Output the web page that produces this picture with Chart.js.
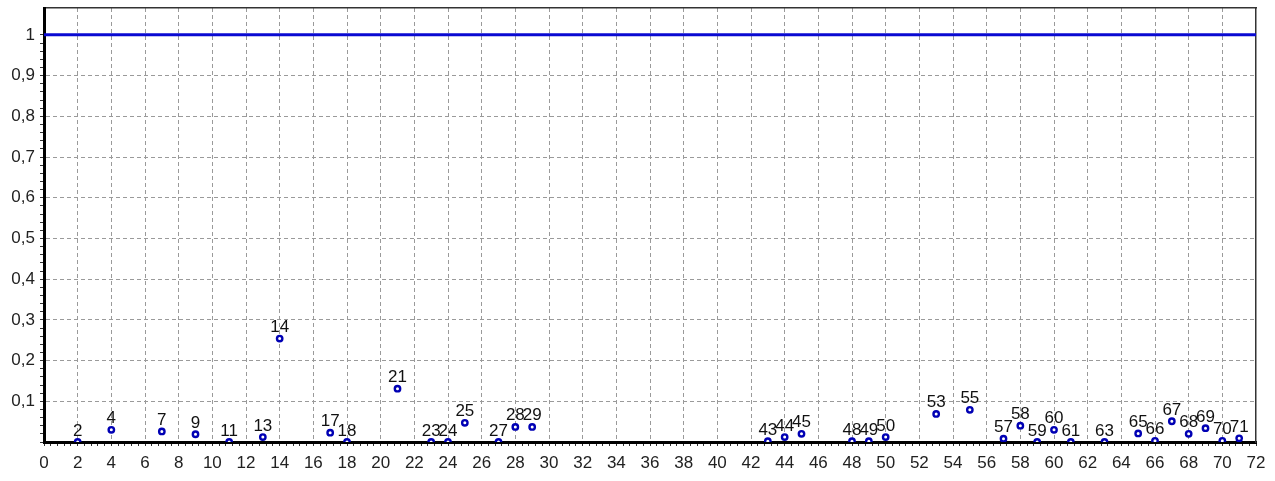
<!DOCTYPE html>
<html>
<head>
<meta charset="utf-8">
<script src="https://cdn.jsdelivr.net/npm/chart.js@4/dist/chart.umd.min.js"></script>
<style>
  html, body { margin: 0; padding: 0; background: #fff; }
  #wrap { width: 1275px; height: 481px; }
</style>
</head>
<body>
<div id="wrap"><canvas id="chart" width="1275" height="481"></canvas></div>
<script>
// point positions (x) and their values (y)
const pointX = [2, 4, 7, 9, 11, 13, 14, 17, 18, 21, 23, 24, 25, 27, 28, 29,
  43, 44, 45, 48, 49, 50, 53, 55, 57, 58, 59, 60, 61, 63, 65, 66, 67, 68, 69, 70, 71];
const pointY = [0, 0.030, 0.026, 0.019, 0, 0.012, 0.254, 0.023, 0, 0.131, 0, 0, 0.047, 0, 0.037, 0.037,
  0.002, 0.012, 0.020, 0.002, 0.002, 0.012, 0.069, 0.079, 0.008, 0.040, 0, 0.030, 0, 0, 0.021, 0.003, 0.051, 0.020, 0.034, 0.003, 0.009];

// horizontal limit line
const limitX = [0, 72];
const limitY = [1, 1];

const xRange = [0, 72];
const yRange = [0, 1.066];

const FONT = '"Liberation Sans", Arial, sans-serif';
const GRID = '#9a9a9a';

function isMajor(v, step) {
  const r = v / step;
  return Math.abs(r - Math.round(r)) < 1e-6;
}

function yLabel(v) {
  if (v <= 0 || v > 1.0001 || !isMajor(v, 0.1)) return '';
  if (Math.abs(v - 1) < 1e-6) return '1';
  return v.toFixed(1).replace('.', ',');
}

// text above each point (its x position)
const pointLabels = {
  id: 'pointLabels',
  afterDatasetsDraw(chart) {
    const meta = chart.getDatasetMeta(1);
    const ctx = chart.ctx;
    ctx.save();
    ctx.font = '17px ' + FONT;
    ctx.fillStyle = '#111';
    ctx.textAlign = 'center';
    ctx.textBaseline = 'alphabetic';
    meta.data.forEach((pt, i) => {
      ctx.fillText(String(pointX[i]), pt.x, pt.y - 6.5);
    });
    ctx.restore();
  }
};

new Chart(document.getElementById('chart'), {
  type: 'scatter',
  data: {
    datasets: [
      {
        data: limitX.map((x, i) => ({ x: x, y: limitY[i] })),
        showLine: true,
        borderColor: '#0a0ad2',
        borderWidth: 3,
        pointRadius: 0,
        clip: 0
      },
      {
        data: pointX.map((x, i) => ({ x: x, y: pointY[i] })),
        pointRadius: 2.7,
        pointBorderWidth: 2.4,
        borderColor: '#0000b4',
        backgroundColor: '#ffffff',
        clip: 0
      }
    ]
  },
  options: {
    responsive: false,
    animation: false,
    devicePixelRatio: 1,
    layout: { padding: 0 },
    plugins: { legend: { display: false }, tooltip: { enabled: false } },
    scales: {
      x: {
        type: 'linear',
        position: 'bottom',
        min: xRange[0],
        max: xRange[1],
        afterFit: s => { s.height = 39; s.paddingLeft = 0; s.paddingRight = 0; },
        ticks: {
          stepSize: 0.4,
          autoSkip: false,
          maxRotation: 0,
          minRotation: 0,
          padding: 7,
          color: '#222',
          font: { family: FONT, size: 17 },
          callback: v => isMajor(v, 2) ? String(Math.round(v)) : ''
        },
        grid: {
          color: c => (c.tick && isMajor(c.tick.value, 2) && c.tick.value > 0 && c.tick.value < 72) ? GRID : 'transparent',
          lineWidth: 1,
          tickColor: '#333',
          tickWidth: 1,
          tickLength: 4
        },
        border: { color: '#000', width: 3, dash: [4, 3] }
      },
      xTop: {
        type: 'linear',
        position: 'top',
        min: xRange[0],
        max: xRange[1],
        afterFit: s => { s.height = 8; s.paddingLeft = 0; s.paddingRight = 0; },
        ticks: { display: false },
        grid: { drawOnChartArea: false, drawTicks: false },
        border: { color: '#333', width: 1.5 }
      },
      y: {
        type: 'linear',
        position: 'left',
        min: yRange[0],
        max: yRange[1],
        afterFit: s => { s.width = 44; s.paddingTop = 0; s.paddingBottom = 0; },
        ticks: {
          stepSize: 0.02,
          autoSkip: false,
          padding: 5,
          color: '#222',
          font: { family: FONT, size: 17 },
          callback: v => yLabel(v)
        },
        grid: {
          color: c => (c.tick && yLabel(c.tick.value) !== '' && c.tick.value < 0.999) ? GRID : 'transparent',
          lineWidth: 1,
          tickColor: c => (c.tick && c.tick.value <= 1.0001) ? '#333' : 'transparent',
          tickWidth: 1,
          tickLength: 4
        },
        border: { color: '#000', width: 3, dash: [4, 3] }
      },
      yRight: {
        type: 'linear',
        position: 'right',
        min: yRange[0],
        max: yRange[1],
        afterFit: s => { s.width = 19; s.paddingTop = 0; s.paddingBottom = 0; },
        ticks: { display: false },
        grid: { drawOnChartArea: false, drawTicks: false },
        border: { color: '#333', width: 1.5 }
      }
    }
  },
  plugins: [pointLabels]
});
</script>
</body>
</html>
